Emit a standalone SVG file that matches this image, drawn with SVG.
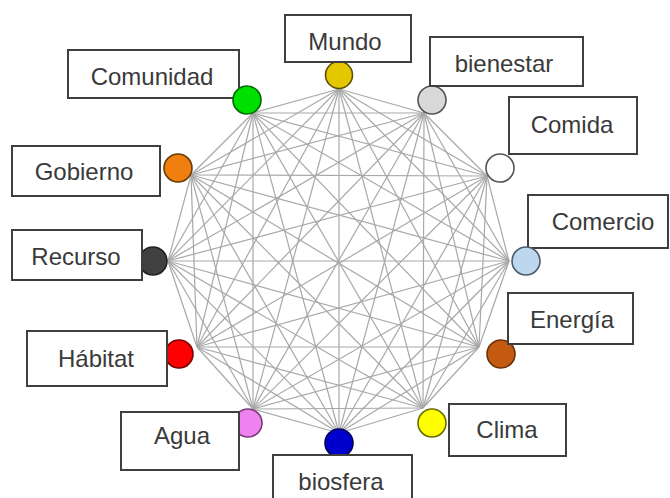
<svg xmlns="http://www.w3.org/2000/svg" width="670" height="498" viewBox="0 0 670 498">
<style>
.box{fill:#ffffff;stroke:#3f3f3f;stroke-width:2}
.lbl{font-family:"Liberation Sans",Arial,sans-serif;font-size:24px;fill:#3a3a3a;text-anchor:middle}
.dot{stroke-width:1.6}
#edges line{stroke:#a8a8a8;stroke-width:1.2}
</style>
<rect width="670" height="498" fill="#ffffff"/>
<g id="edges">
<line x1="339" y1="89" x2="424" y2="113"/><line x1="339" y1="89" x2="487" y2="176"/><line x1="339" y1="89" x2="509" y2="261"/><line x1="339" y1="89" x2="479" y2="347"/><line x1="339" y1="89" x2="423" y2="408"/><line x1="339" y1="89" x2="339" y2="433"/><line x1="339" y1="89" x2="253" y2="409"/><line x1="339" y1="89" x2="197" y2="347"/><line x1="339" y1="89" x2="168" y2="261"/><line x1="339" y1="89" x2="191" y2="175"/><line x1="339" y1="89" x2="253" y2="113"/>
<line x1="424" y1="113" x2="487" y2="176"/><line x1="424" y1="113" x2="509" y2="261"/><line x1="424" y1="113" x2="479" y2="347"/><line x1="424" y1="113" x2="423" y2="408"/><line x1="424" y1="113" x2="339" y2="433"/><line x1="424" y1="113" x2="253" y2="409"/><line x1="424" y1="113" x2="197" y2="347"/><line x1="424" y1="113" x2="168" y2="261"/><line x1="424" y1="113" x2="191" y2="175"/><line x1="424" y1="113" x2="253" y2="113"/>
<line x1="487" y1="176" x2="509" y2="261"/><line x1="487" y1="176" x2="479" y2="347"/><line x1="487" y1="176" x2="423" y2="408"/><line x1="487" y1="176" x2="339" y2="433"/><line x1="487" y1="176" x2="253" y2="409"/><line x1="487" y1="176" x2="197" y2="347"/><line x1="487" y1="176" x2="168" y2="261"/><line x1="487" y1="176" x2="191" y2="175"/><line x1="487" y1="176" x2="253" y2="113"/>
<line x1="509" y1="261" x2="479" y2="347"/><line x1="509" y1="261" x2="423" y2="408"/><line x1="509" y1="261" x2="339" y2="433"/><line x1="509" y1="261" x2="253" y2="409"/><line x1="509" y1="261" x2="197" y2="347"/><line x1="509" y1="261" x2="168" y2="261"/><line x1="509" y1="261" x2="191" y2="175"/><line x1="509" y1="261" x2="253" y2="113"/>
<line x1="479" y1="347" x2="423" y2="408"/><line x1="479" y1="347" x2="339" y2="433"/><line x1="479" y1="347" x2="253" y2="409"/><line x1="479" y1="347" x2="197" y2="347"/><line x1="479" y1="347" x2="168" y2="261"/><line x1="479" y1="347" x2="191" y2="175"/><line x1="479" y1="347" x2="253" y2="113"/>
<line x1="423" y1="408" x2="339" y2="433"/><line x1="423" y1="408" x2="253" y2="409"/><line x1="423" y1="408" x2="197" y2="347"/><line x1="423" y1="408" x2="168" y2="261"/><line x1="423" y1="408" x2="191" y2="175"/><line x1="423" y1="408" x2="253" y2="113"/>
<line x1="339" y1="433" x2="253" y2="409"/><line x1="339" y1="433" x2="197" y2="347"/><line x1="339" y1="433" x2="168" y2="261"/><line x1="339" y1="433" x2="191" y2="175"/><line x1="339" y1="433" x2="253" y2="113"/>
<line x1="253" y1="409" x2="197" y2="347"/><line x1="253" y1="409" x2="168" y2="261"/><line x1="253" y1="409" x2="191" y2="175"/><line x1="253" y1="409" x2="253" y2="113"/>
<line x1="197" y1="347" x2="168" y2="261"/><line x1="197" y1="347" x2="191" y2="175"/><line x1="197" y1="347" x2="253" y2="113"/>
<line x1="168" y1="261" x2="191" y2="175"/><line x1="168" y1="261" x2="253" y2="113"/>
<line x1="191" y1="175" x2="253" y2="113"/>
</g>
<g id="mundo">
<circle class="dot" cx="339" cy="75" r="13.5" fill="#e3c800" stroke="#5a5000"/>
<rect class="box" x="285" y="15" width="126" height="47"/>
<text class="lbl" x="345" y="50">Mundo</text>
</g>
<g id="bienestar">
<circle class="dot" cx="432" cy="100" r="14" fill="#d9d9d9" stroke="#555555"/>
<rect class="box" x="430" y="37" width="153" height="49"/>
<text class="lbl" x="504" y="72">bienestar</text>
</g>
<g id="comida">
<circle class="dot" cx="500" cy="168" r="14" fill="#ffffff" stroke="#555555"/>
<rect class="box" x="509" y="97" width="128" height="57"/>
<text class="lbl" x="572" y="133">Comida</text>
</g>
<g id="comercio">
<rect class="box" x="528" y="195" width="140" height="53"/>
<text class="lbl" x="603" y="230">Comercio</text>
<circle class="dot" cx="526" cy="261" r="14" fill="#bdd7ee" stroke="#4a5a6a"/>
</g>
<g id="energia">
<circle class="dot" cx="501" cy="354" r="14" fill="#c55a11" stroke="#6a3008"/>
<rect class="box" x="508" y="293" width="125" height="51"/>
<text class="lbl" x="572" y="328">Energía</text>
</g>
<g id="clima">
<circle class="dot" cx="432" cy="423" r="14" fill="#ffff00" stroke="#6a6a00"/>
<rect class="box" x="449" y="404" width="117" height="52"/>
<text class="lbl" x="507" y="438">Clima</text>
</g>
<g id="biosfera">
<circle class="dot" cx="339" cy="443" r="14" fill="#0000cc" stroke="#00005a"/>
<rect class="box" x="273" y="455" width="139" height="52"/>
<text class="lbl" x="341" y="490">biosfera</text>
</g>
<g id="agua">
<circle class="dot" cx="248" cy="423" r="14" fill="#ee82ee" stroke="#7a3a7a"/>
<rect class="box" x="121" y="412" width="118" height="58"/>
<text class="lbl" x="182" y="444">Agua</text>
</g>
<g id="habitat">
<circle class="dot" cx="179" cy="354" r="14" fill="#ff0000" stroke="#7a0000"/>
<rect class="box" x="27" y="331" width="140" height="55"/>
<text class="lbl" x="96" y="367">Hábitat</text>
</g>
<g id="recurso">
<circle class="dot" cx="153" cy="261" r="14" fill="#404040" stroke="#202020"/>
<rect class="box" x="12" y="230" width="130" height="50"/>
<text class="lbl" x="76" y="265">Recurso</text>
</g>
<g id="gobierno">
<circle class="dot" cx="178" cy="168" r="14" fill="#f07f10" stroke="#6a3a08"/>
<rect class="box" x="12" y="146" width="148" height="50"/>
<text class="lbl" x="84" y="180">Gobierno</text>
</g>
<g id="comunidad">
<rect class="box" x="68" y="50" width="171" height="48"/>
<text class="lbl" x="152" y="85">Comunidad</text>
<circle class="dot" cx="247" cy="100" r="14" fill="#00e000" stroke="#006a00"/>
</g>
</svg>
